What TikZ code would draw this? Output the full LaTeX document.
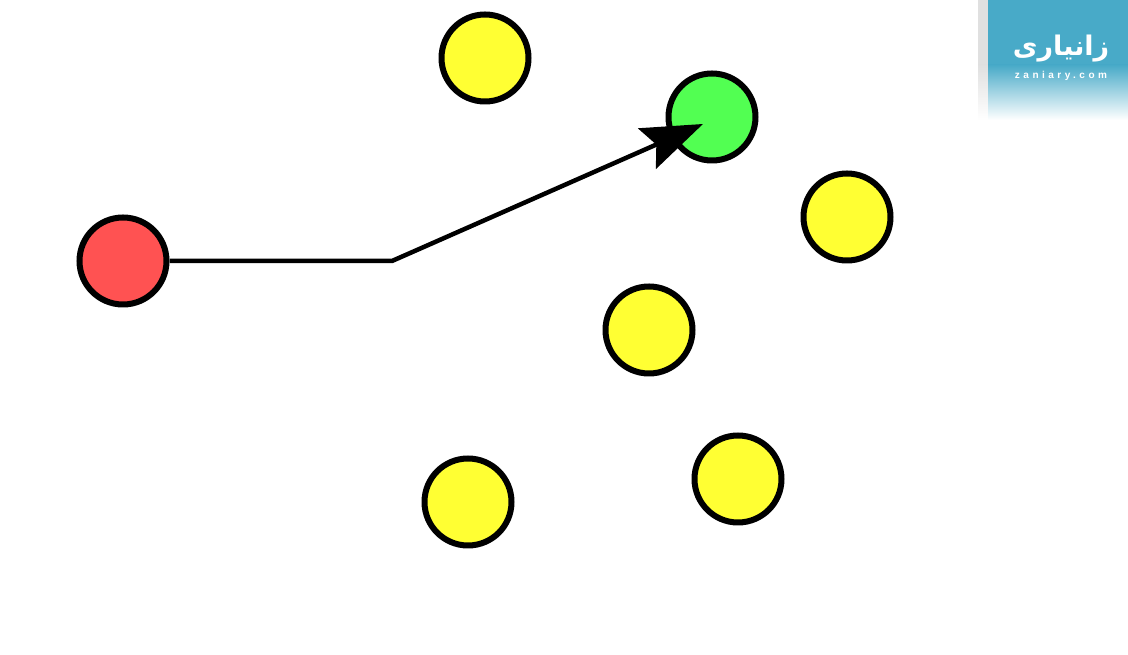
\documentclass[tikz,border=0pt]{standalone}
\usepackage{fontspec}
\usetikzlibrary{arrows.meta, positioning}
\usepackage{xcolor}
\TeXXeTstate=1
\setmainfont{Liberation Sans}
\newfontfamily\arabicfont[Script=Arabic]{DejaVu Sans}
\definecolor{ballyellow}{RGB}{255,255,51}
\definecolor{ballred}{RGB}{255,82,82}
\definecolor{ballgreen}{RGB}{82,255,82}
\definecolor{logoblue}{RGB}{72,170,200}
\definecolor{logoshadow}{RGB}{224,224,224}
\tikzset{bigyellownode/.style={circle, fill=ballyellow, draw=black, line width=6pt, minimum size=87pt, inner sep=0pt},bigrednode/.style={bigyellownode, fill=ballred},biggreennode/.style={bigyellownode, fill=ballgreen}}

\begin{document}
\begin{tikzpicture}[x=1pt, y=1pt]
        \useasboundingbox (0pt, 0pt) rectangle (1128pt, 655pt);
        % Logo
        \fill[logoshadow] (978pt, 655pt) rectangle (988pt, 590pt);
        \shade[top color=logoshadow, bottom color=white] (978pt, 590pt) rectangle (988pt, 535pt);
        \fill[logoblue] (988pt, 655pt) rectangle (1128pt, 590pt);
        \shade[top color=logoblue, bottom color=white] (988pt, 590pt) rectangle (1128pt, 535pt);
        \node[text=white, font=\arabicfont\bfseries\fontsize{27pt}{27pt}\selectfont, inner sep=0pt] (logotext) at (1061pt, 606pt) {\beginR زانیاری\endR};
        \node[text=white, font=\bfseries\fontsize{10pt}{10pt}\selectfont\addfontfeature{LetterSpace=35}, inner sep=0pt] (logourl) at (1061pt, 579pt) {zaniary.com};
        % Balls
        \foreach \i/\x/\y in {
            1/485/597, 
            2/847/438, 
            3/649/325, 
            4/738/176, 
            5/468/153} {
            \node[bigyellownode] (yellow\i) at (\x pt, \y pt) {};
        }
        \node[bigrednode] (red) at (123pt, 394pt) {};
        \node[biggreennode] (green) at (712pt, 538pt) {};
        % Path
        \coordinate (bend) at (392pt, 394pt);
        \coordinate (tip) at (703pt, 531pt);
        \draw[line width=4.5pt, line join=bevel, -{Stealth[length=61pt, width=44pt, inset=10pt]}] (red) -- (bend) -- (tip);
    \end{tikzpicture}
\end{document}
